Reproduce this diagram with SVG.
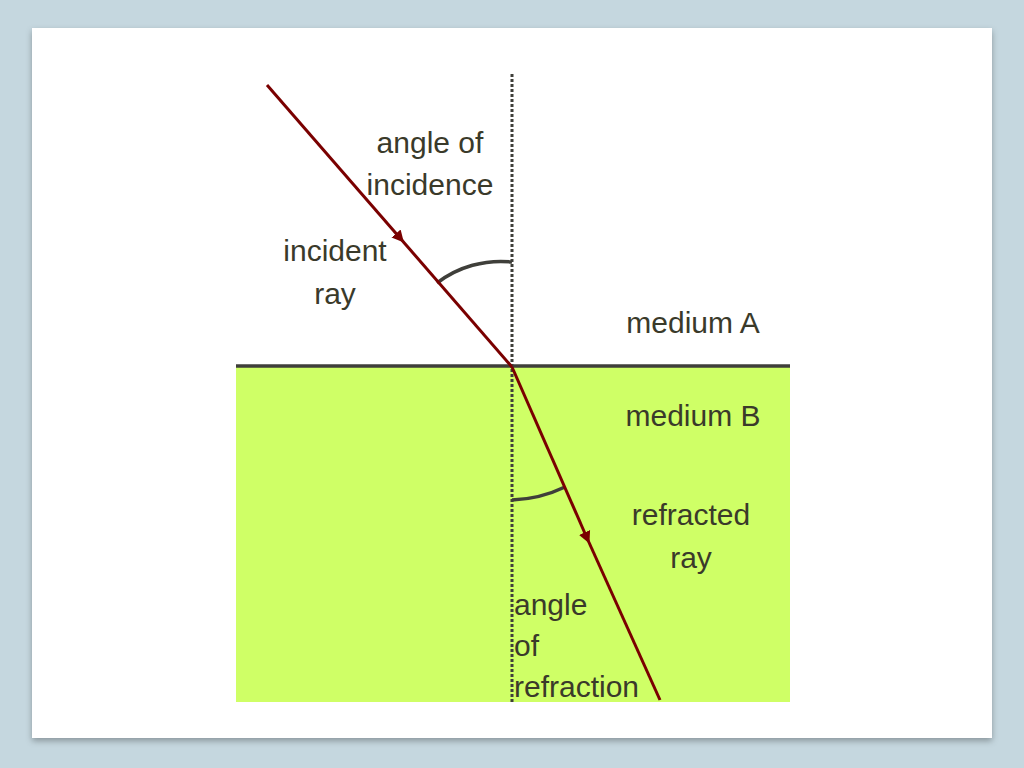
<svg xmlns="http://www.w3.org/2000/svg" width="1024" height="768" viewBox="0 0 1024 768">
<defs>
<filter id="sh" x="-5%" y="-5%" width="110%" height="110%"><feDropShadow dx="0" dy="3" stdDeviation="3" flood-color="#000" flood-opacity="0.3"/></filter>
<marker id="ah" viewBox="0 0 10 10" refX="5" refY="5" markerWidth="4" markerHeight="5" orient="auto"><path d="M0,0 L10,5 L0,10 z" fill="#7a0000"/></marker>
</defs>
<style>
text{font-family:"Liberation Sans",Arial,sans-serif;font-size:30px;fill:#3a3a2a}
.ray{stroke:#7a0000;stroke-width:3;fill:none}
.arc{stroke:#3f3f3a;stroke-width:3.5;fill:none}
</style>
<rect width="1024" height="768" fill="#c5d7df"/>
<rect x="32" y="28" width="960" height="710" fill="#fff" filter="url(#sh)"/>
<g id="mediumB"><rect x="236" y="366" width="554" height="336" fill="#cfff66"/></g>
<g id="connectors">
<line x1="236" y1="366" x2="790" y2="366" stroke="#3f3f3a" stroke-width="3.5"/>
<line x1="512" y1="74" x2="512" y2="702" stroke="#3f3f3a" stroke-width="3" stroke-dasharray="3,2"/>
<path class="arc" d="M437,283 A105,105 0 0 1 512,262"/>
<path class="arc" d="M512,500 A133,133 0 0 0 565,487"/>
<path class="ray" d="M267,85 L400,238" marker-end="url(#ah)"/>
<path class="ray" d="M400,238 L512,367"/>
<path class="ray" d="M512,367 L587,538" marker-end="url(#ah)"/>
<path class="ray" d="M587,538 L660,700"/>
</g>
<g id="labels">
<text x="430" y="153" text-anchor="middle">angle of</text>
<text x="430" y="195" text-anchor="middle">incidence</text>
<text x="335" y="261" text-anchor="middle">incident</text>
<text x="335" y="304" text-anchor="middle">ray</text>
<text x="693" y="333" text-anchor="middle">medium A</text>
<text x="693" y="426" text-anchor="middle">medium B</text>
<text x="691" y="525" text-anchor="middle">refracted</text>
<text x="691" y="568" text-anchor="middle">ray</text>
<text x="514" y="615">angle</text>
<text x="514" y="656">of</text>
<text x="514" y="697">refraction</text>
</g>
</svg>
